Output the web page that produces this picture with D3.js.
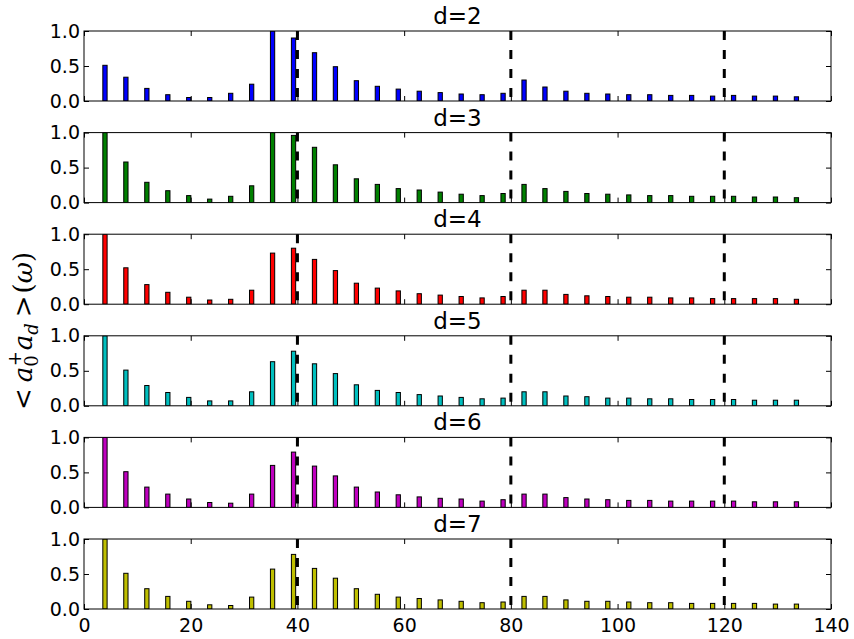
<!DOCTYPE html>
<html>
<head>
<meta charset="utf-8">
<script src="https://d3js.org/d3.v7.min.js"></script>
<style>
  body { margin: 0; background: #fff; }
  svg { display: block; }
  text { font-family: "DejaVu Sans", sans-serif; fill: #000; }
</style>
</head>
<body>
<svg id="chart" width="854" height="639"></svg>
<script>
// Frequencies at which the correlation is sampled (bar centres)
const omega = [3.93, 7.85, 11.78, 15.71, 19.63, 23.56, 27.49, 31.42, 35.34, 39.27,
               43.20, 47.12, 51.05, 54.98, 58.90, 62.83, 66.76, 70.69, 74.61, 78.54,
               82.47, 86.39, 90.32, 94.25, 98.17, 102.10, 106.03, 109.96, 113.88, 117.81,
               121.74, 125.66, 129.59, 133.52];

// <a0+ ad>(omega) for each distance d
const d2 = [0.51, 0.34, 0.18, 0.09, 0.05, 0.05, 0.11, 0.24, 1.00, 0.90,
            0.69, 0.49, 0.29, 0.21, 0.17, 0.14, 0.12, 0.10, 0.09, 0.11,
            0.30, 0.20, 0.14, 0.11, 0.10, 0.09, 0.09, 0.08, 0.08, 0.07,
            0.08, 0.07, 0.07, 0.06];
const d3v = [1.00, 0.58, 0.29, 0.17, 0.10, 0.05, 0.09, 0.24, 1.00, 0.96,
            0.79, 0.54, 0.34, 0.26, 0.20, 0.18, 0.15, 0.12, 0.10, 0.13,
            0.26, 0.20, 0.16, 0.13, 0.12, 0.11, 0.10, 0.10, 0.09, 0.09,
            0.09, 0.08, 0.08, 0.07];
const d4 = [1.00, 0.52, 0.28, 0.17, 0.10, 0.06, 0.07, 0.20, 0.73, 0.80,
            0.64, 0.48, 0.30, 0.23, 0.19, 0.15, 0.13, 0.11, 0.09, 0.11,
            0.20, 0.20, 0.14, 0.12, 0.11, 0.10, 0.10, 0.09, 0.09, 0.08,
            0.08, 0.08, 0.08, 0.07];
const d5 = [1.00, 0.51, 0.29, 0.19, 0.12, 0.07, 0.07, 0.20, 0.63, 0.78,
            0.60, 0.46, 0.30, 0.22, 0.19, 0.16, 0.14, 0.12, 0.10, 0.11,
            0.20, 0.20, 0.14, 0.13, 0.11, 0.11, 0.10, 0.10, 0.09, 0.09,
            0.09, 0.08, 0.08, 0.08];
const d6 = [1.00, 0.51, 0.29, 0.19, 0.12, 0.07, 0.06, 0.19, 0.60, 0.79,
            0.59, 0.45, 0.29, 0.22, 0.18, 0.15, 0.13, 0.12, 0.09, 0.11,
            0.19, 0.19, 0.14, 0.12, 0.11, 0.10, 0.10, 0.09, 0.09, 0.09,
            0.09, 0.08, 0.08, 0.08];
const d7 = [1.00, 0.51, 0.29, 0.18, 0.11, 0.06, 0.05, 0.17, 0.57, 0.78,
            0.58, 0.44, 0.29, 0.21, 0.17, 0.15, 0.13, 0.11, 0.09, 0.10,
            0.18, 0.18, 0.13, 0.11, 0.11, 0.10, 0.09, 0.09, 0.08, 0.08,
            0.08, 0.08, 0.07, 0.07];

const series = [d2, d3v, d4, d5, d6, d7];
const panelTitles = ["d=2", "d=3", "d=4", "d=5", "d=6", "d=7"];
const panelColors = ["#0000ff", "#008000", "#ff0000", "#00bfbf", "#bf00bf", "#bfbf00"];

const xTicks = [0, 20, 40, 60, 80, 100, 120, 140];
const yTicks = [0.0, 0.5, 1.0];
const markers = [40, 80, 120];   // dashed reference frequencies

// Layout
const left = 84, right = 831;
const firstTop = 31, panelH = 70, pitch = 101.6;
const barWidth = 0.8;

const svg = d3.select("#chart");
const x = d3.scaleLinear().domain([0, 140]).range([left, right]);
const y = d3.scaleLinear().domain([0, 1]).range([panelH, 0]);

series.forEach((vals, i) => {
  const top = firstTop + i * pitch;
  const g = svg.append("g").attr("transform", `translate(0,${top})`);

  const clipId = "clip" + i;
  g.append("clipPath").attr("id", clipId)
    .append("rect").attr("x", left).attr("y", 0)
    .attr("width", right - left).attr("height", panelH);

  // bars
  g.append("g").attr("clip-path", `url(#${clipId})`)
    .selectAll("rect")
    .data(vals)
    .join("rect")
    .attr("x", (v, j) => x(omega[j] - barWidth / 2))
    .attr("width", x(barWidth) - x(0))
    .attr("y", v => y(v))
    .attr("height", v => y(0) - y(v))
    .attr("fill", panelColors[i])
    .attr("stroke", "#000")
    .attr("stroke-width", 1);

  // dashed markers
  g.append("g").selectAll("line")
    .data(markers)
    .join("line")
    .attr("x1", d => x(d)).attr("x2", d => x(d))
    .attr("y1", 0).attr("y2", panelH)
    .attr("stroke", "#000")
    .attr("stroke-width", 3)
    .attr("stroke-dasharray", "9,10");

  // inward ticks on all four sides
  const tickLen = 5;
  const bottomAxis = d3.axisBottom(x).tickValues(xTicks).tickSize(-tickLen).tickPadding(10)
    .tickFormat(i === series.length - 1 ? d3.format("d") : () => "");
  const topAxis = d3.axisTop(x).tickValues(xTicks).tickSize(-tickLen).tickFormat(() => "");
  const leftAxis = d3.axisLeft(y).tickValues(yTicks).tickSize(-tickLen).tickPadding(4)
    .tickFormat(d3.format(".1f"));
  const rightAxis = d3.axisRight(y).tickValues(yTicks).tickSize(-tickLen).tickFormat(() => "");

  const axes = [
    g.append("g").attr("transform", `translate(0,${panelH})`).call(bottomAxis),
    g.append("g").call(topAxis),
    g.append("g").attr("transform", `translate(${left},0)`).call(leftAxis),
    g.append("g").attr("transform", `translate(${right},0)`).call(rightAxis)
  ];
  axes.forEach(a => {
    a.select(".domain").remove();
    a.selectAll(".tick line").attr("stroke", "#000").attr("stroke-width", 1);
    a.selectAll("text").attr("font-family", "DejaVu Sans").attr("font-size", 19).attr("fill", "#000");
  });

  // frame
  g.append("rect")
    .attr("x", left).attr("y", 0)
    .attr("width", right - left).attr("height", panelH)
    .attr("fill", "none").attr("stroke", "#000").attr("stroke-width", 1);

  // title
  g.append("text")
    .attr("x", (left + right) / 2).attr("y", -7)
    .attr("text-anchor", "middle")
    .attr("font-size", 23)
    .text(panelTitles[i]);
});

// y-axis label: <a_0^+ a_d>(ω), with relation spacing around < and >
const yl = svg.append("text")
  .attr("transform", "translate(32,331) rotate(-90)")
  .attr("text-anchor", "middle")
  .style("font-family", "'DejaVu Serif', serif")
  .attr("font-size", 26);
yl.append("tspan").text("<");
yl.append("tspan").attr("font-style", "italic").attr("dx", 6).text("a");
yl.append("tspan").attr("font-size", 18).attr("dy", 6).text("0");
yl.append("tspan").attr("font-size", 18).attr("dx", -11).attr("dy", -17).text("+");
yl.append("tspan").attr("font-style", "italic").attr("dx", 1).attr("dy", 11).text("a");
yl.append("tspan").attr("font-style", "italic").attr("font-size", 18).attr("dy", 6).text("d");
yl.append("tspan").attr("dx", 6).attr("dy", -6).text(">");
yl.append("tspan").attr("dx", 2).text("(");
yl.append("tspan").attr("font-style", "italic").text("ω");
yl.append("tspan").text(")");
</script>
</body>
</html>
